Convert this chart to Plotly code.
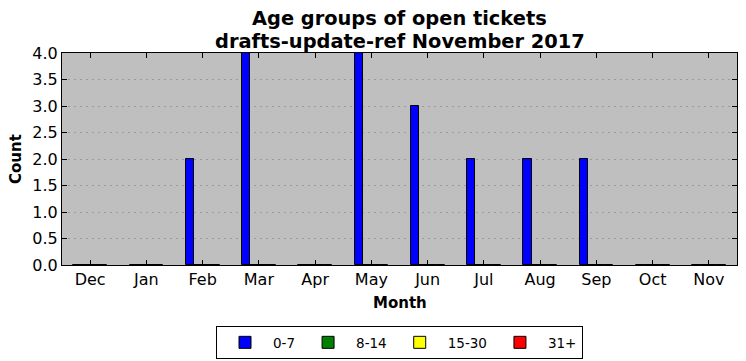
import plotly.graph_objects as go

months = ["Dec", "Jan", "Feb", "Mar", "Apr", "May", "Jun", "Jul", "Aug", "Sep", "Oct", "Nov"]
age_0_7 = [0, 0, 2, 4, 0, 4, 3, 2, 2, 2, 0, 0]
age_8_14 = [0] * 12
age_15_30 = [0] * 12
age_31_plus = [0] * 12

series = [
    ("0-7", age_0_7, "#0000ff", -0.3),
    ("8-14", age_8_14, "#008000", -0.15),
    ("15-30", age_15_30, "#ffff00", 0.0),
    ("31+", age_31_plus, "#ff0000", 0.15),
]

fig = go.Figure()
for name, vals, color, off in series:
    fig.add_trace(go.Bar(
        x=list(range(len(months))), y=vals, name=name,
        marker=dict(color=color, line=dict(color="black", width=1)),
        width=0.15, offset=off,
    ))

font = "DejaVu Sans, sans-serif"
# page body has an 8px margin, so the figure is 8px smaller and shifted
fig.update_layout(
    width=738, height=353,
    margin=dict(l=54, r=9, t=45, b=96, autoexpand=False),
    paper_bgcolor="white", plot_bgcolor="#bfbfbf",
    font=dict(family=font, size=13, color="black"),
    showlegend=True,
    legend=dict(
        orientation="h", x=0.5, xanchor="center", y=-0.288, yanchor="top",
        bordercolor="black", borderwidth=1, bgcolor="white",
        font=dict(size=13.5), traceorder="normal",
        itemwidth=46,
    ),
    bargap=0,
)
ann = [
    dict(text="<b>Age groups of open tickets</b>", x=0.5, y=(265 - 19) / 212, font=dict(size=19.4)),
    dict(text="<b>drafts-update-ref November 2017</b>", x=0.5, y=(265 - 41) / 212, font=dict(size=19.4)),
    dict(text="<b>Month</b>", x=0.5, y=(265 - 303) / 212, font=dict(size=15)),
    dict(text="<b>Count</b>", x=(16 - 62) / 675, y=0.5, textangle=-90, font=dict(size=15)),
]
for a in ann:
    fig.add_annotation(xref="paper", yref="paper", showarrow=False,
                       xanchor="center", yanchor="middle", **a)

fig.update_xaxes(
    range=[-0.5, 11.5], tickmode="array", tickvals=list(range(12)), ticktext=months,
    ticks="inside", ticklen=5, tickcolor="black",
    showline=True, linecolor="black", linewidth=1, mirror="ticks",
    showgrid=False, zeroline=False, automargin=False,
    tickfont=dict(size=16),
)
fig.update_yaxes(
    range=[0, 4], dtick=0.5, tickformat=".1f",
    ticks="inside", ticklen=5, tickcolor="black",
    showline=True, linecolor="black", linewidth=1, mirror="ticks",
    showgrid=True, gridcolor="#9a9a9a", griddash="1.5px,4.5px", gridwidth=1,
    zeroline=False, automargin=False,
    tickfont=dict(size=16),
)
fig.write_html("out.html")
